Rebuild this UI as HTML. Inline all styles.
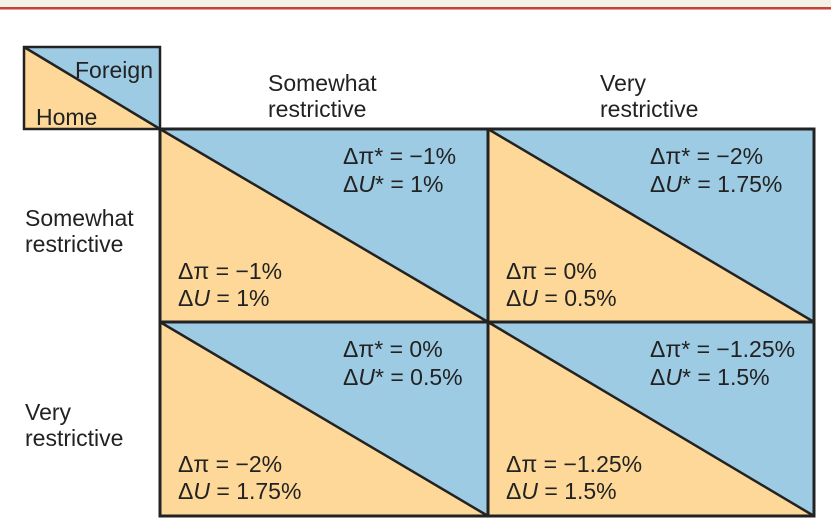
<!DOCTYPE html>
<html><head><meta charset="utf-8"><style>
body{margin:0;background:#fff;}
svg{display:block;font-family:"Liberation Sans",sans-serif;}
</style></head><body>
<svg width="831" height="528" viewBox="0 0 831 528">
<rect x="0" y="0" width="831" height="7" fill="#f4f1e6"/>
<rect x="0" y="7" width="831" height="2.5" fill="#c8403a"/>
<g>
<polygon points="24,47 160,47 160,129" fill="#9dcbe3"/>
<polygon points="24,47 160,129 24,129" fill="#fdd898"/>
<line x1="24" y1="47" x2="160" y2="129" stroke="#222" stroke-width="2.5"/>
<rect x="24" y="47" width="136" height="82" fill="none" stroke="#222" stroke-width="2.5"/>
<text x="75" y="78" font-size="23" fill="#222">Foreign</text>
<text x="36" y="125" font-size="23" fill="#222">Home</text>
</g>
<g font-size="23" fill="#222">
<text x="268" y="91"><tspan x="268">Somewhat</tspan><tspan x="268" dy="26">restrictive</tspan></text>
<text x="600" y="91"><tspan x="600">Very</tspan><tspan x="600" dy="26">restrictive</tspan></text>
<text x="25" y="226"><tspan x="25">Somewhat</tspan><tspan x="25" dy="26">restrictive</tspan></text>
<text x="25" y="420"><tspan x="25">Very</tspan><tspan x="25" dy="26">restrictive</tspan></text>
</g>
<g id="cells"></g>
</svg>
<script>
const homePi = [["−1%","0%"],["−2%","−1.25%"]];
const homeU = [["1%","0.5%"],["1.75%","1.5%"]];
const forPi = [["−1%","−2%"],["0%","−1.25%"]];
const forU = [["1%","1.75%"],["0.5%","1.5%"]];
const NS="http://www.w3.org/2000/svg";
const g=document.getElementById('cells');
const xs=[160,488,814], ys=[129,322,516];
function mk(tag,attrs){const e=document.createElementNS(NS,tag);for(const k in attrs)e.setAttribute(k,attrs[k]);return e;}
function eq(parent,x,y,sym,star,val){
  const t=mk('text',{x:x,y:y,'font-size':23,fill:'#222'});
  const a=mk('tspan',{});a.textContent='Δ';t.appendChild(a);
  const b=mk('tspan',{});
  if(sym==='U'){b.setAttribute('font-style','italic');}
  b.textContent=sym==='pi'?'π':'U';t.appendChild(b);
  if(star){const s=mk('tspan',{});s.textContent='*';t.appendChild(s);}
  const c=mk('tspan',{});c.textContent=' = '+val;t.appendChild(c);
  parent.appendChild(t);return t;
}
for(let r=0;r<2;r++)for(let c=0;c<2;c++){
  const x0=xs[c],x1=xs[c+1],y0=ys[r],y1=ys[r+1];
  const cell=mk('g',{});
  
  
  const up=mk('polygon',{points:`${x0},${y0} ${x1},${y0} ${x1},${y1}`,fill:'#9dcbe3'});
  
  
  const lo=mk('polygon',{points:`${x0},${y0} ${x1},${y1} ${x0},${y1}`,fill:'#fdd898'});
  
  
  cell.appendChild(up);cell.appendChild(lo);
  cell.appendChild(mk('line',{x1:x0,y1:y0,x2:x1,y2:y1,stroke:'#222','stroke-width':2.5}));
  const fx=c===0?343:650;
  const t1=eq(cell,fx,y0+35,'pi',true,forPi[r][c]);
  
  
  const t2=eq(cell,fx,y0+63,'U',true,forU[r][c]);
  
  
  const t3=eq(cell,x0+18,y0+150,'pi',false,homePi[r][c]);
  
  
  const t4=eq(cell,x0+18,y0+177,'U',false,homeU[r][c]);
  
  
  g.appendChild(cell);
}
const grid=mk('g',{stroke:'#222','stroke-width':3,fill:'none'});


grid.appendChild(mk('rect',{x:160,y:129,width:654,height:387}));
grid.appendChild(mk('line',{x1:488,y1:129,x2:488,y2:516}));
grid.appendChild(mk('line',{x1:160,y1:322,x2:814,y2:322}));
g.appendChild(grid);
</script>
</body></html>
